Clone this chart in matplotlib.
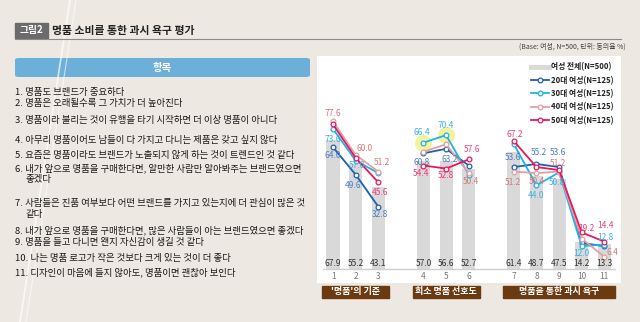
import matplotlib
matplotlib.use('Agg')
import matplotlib.pyplot as plt
from matplotlib.patches import Rectangle, FancyBboxPatch
from matplotlib.lines import Line2D

plt.rcParams['font.family'] = ['Noto Sans CJK KR', 'DejaVu Sans']

# data
item_nums = ['1', '2', '3', '4', '5', '6', '7', '8', '9', '10', '11']
x_pos = [1, 2, 3, 5, 6, 7, 9, 10, 11, 12, 13]
total = [67.9, 55.2, 43.1, 57.0, 56.6, 52.7, 61.4, 48.7, 47.5, 14.2, 13.3]
age20 = [64.0, 49.6, 32.8, 60.8, 63.2, 54.4, 53.6, 55.2, 53.6, 13.6, 12.0]
age30 = [73.6, 57.0, 50.4, 66.4, 70.4, 49.6, 65.6, 44.0, 50.8, 12.0, 12.8]
age40 = [77.6, 60.0, 51.2, 61.6, 65.6, 50.4, 51.2, 50.4, 51.2, 16.0, 6.4]
age50 = [76.0, 58.4, 45.6, 54.4, 52.8, 57.6, 67.2, 53.6, 52.0, 19.2, 14.4]
groups = ["'명품'의 기준", '희소 명품 선호도', '명품을 통한 과시 욕구']
group_items = [(0, 2), (3, 5), (6, 10)]

items = [
    '1. 명품도 브랜드가 중요하다',
    '2. 명품은 오래될수록 그 가치가 더 높아진다',
    '3. 명품이라 불리는 것이 유행을 타기 시작하면 더 이상 명품이 아니다',
    '4. 아무리 명품이어도 남들이 다 가지고 다니는 제품은 갖고 싶지 않다',
    '5. 요즘은 명품이라도 브랜드가 노출되지 않게 하는 것이 트렌드인 것 같다',
    '6. 내가 앞으로 명품을 구매한다면, 알만한 사람만 알아봐주는 브랜드였으면\n좋겠다',
    '7. 사람들은 진품 여부보다 어떤 브랜드를 가지고 있는지에 더 관심이 많은 것\n같다',
    '8. 내가 앞으로 명품을 구매한다면, 많은 사람들이 아는 브랜드였으면 좋겠다',
    '9. 명품을 들고 다니면 왠지 자신감이 생길 것 같다',
    '10. 나는 명품 로고가 작은 것보다 크게 있는 것이 더 좋다',
    '11. 디자인이 마음에 들지 않아도, 명품이면 괜찮아 보인다',
]
item_y = [92, 104, 120, 140, 155, 168, 203, 230, 243, 258, 272]

series = [
    ('20대 여성(N=125)', age20, '#1f5fae', '#4b7ec4'),
    ('30대 여성(N=125)', age30, '#1eb2ec', '#3bb0e6'),
    ('40대 여성(N=125)', age40, '#e3a0a0', '#cf7a7a'),
    ('50대 여성(N=125)', age50, '#e8175d', '#ea3f78'),
]

# value labels shown: (item index, series index, dx px, dy px)
labels = [
    (0, 2, 0, 8), (0, 1, 0, -10), (0, 0, 0, -8),
    (1, 2, 9, 6), (1, 1, 1, -5), (1, 0, -3, -11),
    (2, 2, 4, 9), (2, 3, 2, -10), (2, 0, 2, -8),
    (3, 1, -2, 10), (3, 0, -2, -9), (3, 3, -2, -8),
    (4, 1, 0, 10), (4, 0, 4, -11), (4, 3, 0, -7),
    (5, 3, 3, 10), (5, 2, 2, -8),
    (6, 3, 1, 7), (6, 0, -1, 10), (6, 2, -1, -11),
    (7, 0, 2, 11), (7, 2, 0, -8), (7, 1, 0, -10),
    (8, 0, -1, 15), (8, 2, -1, 8), (8, 1, -2, -10),
    (9, 3, 5, 4), (9, 1, 0, -7),
    (10, 3, 1, 16), (10, 1, 1, 7), (10, 2, 8, 4),
]

W, H = 640, 322
fig = plt.figure(figsize=(6.4, 3.22), dpi=100)
fig.patch.set_facecolor('#ede9e2')


def fx(px):
    return px / W


def fy(py):
    return 1 - py / H


# background decoration
fig.add_artist(Line2D([fx(70), fx(20)], [fy(0), fy(322)], color='white', lw=1.2, alpha=0.7))
fig.add_artist(Line2D([fx(76), fx(26)], [fy(0), fy(322)], color='white', lw=0.8, alpha=0.6))

# title
fig.add_artist(Rectangle((fx(15), fy(38)), fx(33), 15 / H, color='#6b6b6b'))
fig.text(fx(31.5), fy(30.5), '그림2', color='white', fontsize=7, fontweight='bold',
         ha='center', va='center')
fig.text(fx(52), fy(30.5), '명품 소비를 통한 과시 욕구 평가', color='#222222', fontsize=7.8,
         fontweight='bold', ha='left', va='center')
fig.add_artist(Line2D([fx(15), fx(621)], [fy(38.5), fy(38.5)], color='#8a8a8a', lw=0.8))
fig.text(fx(626), fy(47), '(Base: 여성, N=500, 단위: 동의율 %)', color='#444444', fontsize=5,
         ha='right', va='center')

# left panel
fig.add_artist(FancyBboxPatch((fx(15), fy(77)), fx(295), 19 / H,
                              boxstyle='round,pad=0,rounding_size=0.006',
                              color='#6cb0da', lw=0))
fig.text(fx(162), fy(67.5), '항목', color='white', fontsize=7.5, fontweight='bold',
         ha='center', va='center')
for txt, y in zip(items, item_y):
    for k, line in enumerate(txt.split('\n')):
        fig.text(fx(15 if k == 0 else 25), fy(y + k * 11.5), line, color='#1a1a1a',
                 fontsize=6.8, ha='left', va='center')

# chart
ax = fig.add_axes([fx(317), fy(283), fx(621 - 317), (283 - 56) / H])
ax.set_facecolor('white')
ax.set_xlim(0.29, 13.74)
ax.set_ylim(-7.4, 112)
for s in ax.spines.values():
    s.set_visible(False)
ax.set_xticks([])
ax.set_yticks([])

ax.bar(x_pos, total, width=0.58, color='#d9d9d9', zorder=1)
ax.axhline(0, xmin=0.02, xmax=0.98, color='#cfcfcf', lw=1, zorder=2)
for x, v in zip(x_pos, total):
    ax.text(x, 2.7, '%.1f' % v, ha='center', va='center', fontsize=6, color='#333333', zorder=5)
for x, t in zip(x_pos, item_nums):
    ax.text(x, -4.2, t, ha='center', va='center', fontsize=6, color='#777777')

# yellow highlight
ax.scatter([x_pos[3], x_pos[4]], [age30[3], age30[4]], s=150, color='#f2f28e', alpha=0.85,
           zorder=2, lw=0)

for name, vals, col, lcol in series:
    for a, b in group_items:
        ax.plot(x_pos[a:b + 1], vals[a:b + 1], color=col, lw=1.3, marker='o', ms=3.4,
                mfc='white', mec=col, mew=0.9, zorder=3)

for i, si, dx, dy in labels:
    name, vals, col, lcol = series[si]
    ax.annotate('%.1f' % vals[i], (x_pos[i], vals[i]), xytext=(dx, dy),
                textcoords='offset pixels', ha='center', va='center', fontsize=6,
                color=lcol, zorder=6)

# group boxes below
for (a, b), g in zip(group_items, groups):
    x0 = x_pos[a] - 0.48
    x1 = x_pos[b] + 0.48
    ax.add_patch(Rectangle((x0, -15.3), x1 - x0, 6.4, color='#6b3a10', clip_on=False, zorder=4))
    ax.text((x0 + x1) / 2, -12.1, g, ha='center', va='center', fontsize=6.5, color='white',
            fontweight='bold', clip_on=False, zorder=5)

handles = [Line2D([], [], color='#d9d9d9', lw=3.5, label='여성 전체(N=500)')]
for name, vals, col, lcol in series:
    handles.append(Line2D([], [], color=col, lw=1.3, marker='o', ms=3.4, mfc='white',
                          mec=col, mew=0.9, label=name))
leg = ax.legend(handles=handles, loc='upper right', bbox_to_anchor=(0.985, 0.985), frameon=False,
                fontsize=5.6, handlelength=2.4, handletextpad=0.2, labelspacing=0.55,
                borderaxespad=0)
for t in leg.get_texts():
    t.set_fontweight('bold')
    t.set_color('#222222')

fig.savefig('out.png', dpi=100, facecolor=fig.get_facecolor())
